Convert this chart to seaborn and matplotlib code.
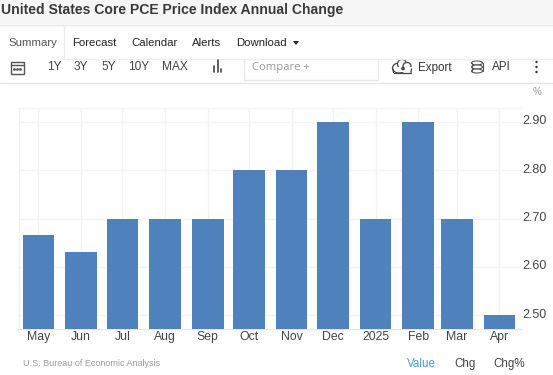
import numpy as np
import pandas as pd
import matplotlib
matplotlib.use('Agg')
import matplotlib.pyplot as plt
from matplotlib.patches import Rectangle, Ellipse, Circle
from matplotlib.transforms import ScaledTranslation
import seaborn as sns

sns.set_style('white')
plt.rcParams['font.family'] = ['Liberation Sans', 'DejaVu Sans']

# days since the first bar, the axis is a real time axis so the gaps differ a bit
days = [0, 31, 61, 92, 123, 153, 184, 214, 245, 276, 304, 335]
months = ['May', 'Jun', 'Jul', 'Aug', 'Sep', 'Oct', 'Nov', 'Dec', '2025', 'Feb', 'Mar', 'Apr']
values = [2.666, 2.63, 2.70, 2.70, 2.70, 2.80, 2.80, 2.90, 2.70, 2.90, 2.70, 2.50]
yticks = [2.50, 2.60, 2.70, 2.80, 2.90]
tabs = [('Summary', 8, '#555555'), ('Forecast', 72, '#222222'), ('Calendar', 131, '#222222'),
        ('Alerts', 192, '#222222'), ('Download', 236, '#222222')]
ranges = [('1Y', 47), ('3Y', 74), ('5Y', 101), ('10Y', 128), ('MAX', 162)]
modes = [('Value', 407, '#4a9be0'), ('Chg', 454, '#444444'), ('Chg%', 493, '#444444')]

W, H = 553, 375
fig = plt.figure(figsize=(W / 100, H / 100), dpi=100)

# page furniture, in pixel coordinates
bg = fig.add_axes([0, 0, 1, 1])
bg.set_xlim(0, W)
bg.set_ylim(H, 0)
bg.axis('off')
bg.add_patch(Rectangle((0, 0), W, 24, color='#f6f6f6', lw=0))
bg.plot([0, W], [24.5, 24.5], color='#e6e6e6', lw=1)
bg.add_patch(Rectangle((0, 25), 64, 35, facecolor='white', edgecolor='none'))
bg.plot([64, 64, W], [25, 59, 59], color='#ececec', lw=1)
bg.plot([0, W], [83, 83], color='#e6e6e6', lw=1)
bg.plot([244, 244, 378, 378], [60, 80, 80, 60], color='#e8e8e8', lw=1)

bg.text(1, 10, 'United States Core PCE Price Index Annual Change', fontsize=10.1,
        fontweight='bold', color='#3a3a3a', va='center')
for label, x, c in tabs:
    bg.text(x, 43, label, fontsize=8.2, color=c, va='center')
bg.fill([293, 299, 296], [41, 41, 45], color='#222222', lw=0)
for label, x in ranges:
    bg.text(x, 67.5, label, fontsize=8.6, color='#444444', va='center', ha='left')
bg.text(252, 67.5, 'Compare +', fontsize=8.1, color='#999999', va='center', family='Open Sans')
bg.text(418, 67.5, 'Export', fontsize=8.4, color='#333333', va='center')
bg.text(492, 67.5, 'API', fontsize=8.4, color='#333333', va='center')

# toolbar icons
bg.add_patch(Rectangle((10.5, 61.5), 13, 12, facecolor='none', edgecolor='#555555', lw=1))
bg.plot([10.5, 23.5], [65, 65], color='#555555', lw=1)
bg.plot([14, 17, 20], [69, 69, 69], ls='none', marker='s', ms=0.9, color='#555555')
for x, y0 in [(214, 66), (217.5, 60), (221, 69)]:
    bg.plot([x, x], [y0, 72], color='#444444', lw=1.2)
for xy, w, h in [((399, 68), 13, 10), ((402, 64), 9, 9), ((407, 66), 8, 7)]:
    bg.add_patch(Ellipse(xy, w, h, facecolor='white', edgecolor='#444444', lw=0.9))
bg.add_patch(Rectangle((397, 67), 15, 5, facecolor='white', lw=0))
bg.plot([393.5, 411], [72.5, 72.5], color='#444444', lw=0.9)
bg.plot([393, 393.5], [69, 72.5], color='#444444', lw=0.9)
bg.plot([411.5, 411], [69, 72.5], color='#444444', lw=0.9)
bg.add_patch(Circle((403, 68.5), 1.8, color='#444444', lw=0))
for y in [63, 67, 71]:
    bg.add_patch(Ellipse((477, y), 11, 4, facecolor='white', edgecolor='#555555', lw=0.8))
bg.plot([471.5, 471.5], [63, 71], color='#555555', lw=0.8)
bg.plot([482.5, 482.5], [63, 71], color='#555555', lw=0.8)
for y in [62, 67, 72]:
    bg.add_patch(Circle((536.5, y), 1.2, color='#333333', lw=0))

bg.text(537, 92, '%', fontsize=7, color='#999999', va='center', ha='center')
bg.text(23, 364, 'U.S. Bureau of Economic Analysis', fontsize=6.5, color='#9a9a9a', va='center')
for label, x, c in modes:
    bg.text(x, 364, label, fontsize=8.4, color=c, va='center')

# chart area
ax = fig.add_axes([18.5 / W, 1 - 329 / H, (520.5 - 18.5) / W, (329 - 108) / H])
ax.patch.set_alpha(0)
df = pd.DataFrame({'day': days, 'value': values})
sns.barplot(data=df, x='day', y='value', native_scale=True, color='#4f81bd',
            saturation=1, width=0.82, linewidth=0, ax=ax, zorder=3)
ax.set_xlim(-14.5, 350.3)
ax.set_ylim(2.471, 2.929)
ax.set_xticks(days)
ax.set_xticklabels(months, fontsize=8.8, color='#444444')
ax.set_yticks(yticks)
ax.set_yticklabels(['%.2f' % v for v in yticks], fontsize=9, color='#444444')
ax.yaxis.tick_right()
ax.tick_params(axis='x', length=0, pad=1.5)
ax.tick_params(axis='y', length=0, pad=1.5)
# y labels sit a little above their gridlines
up = ScaledTranslation(0, 2 / 100, fig.dpi_scale_trans)
for lab in ax.get_yticklabels():
    lab.set_transform(lab.get_transform() + up)
ax.set_xlabel('')
ax.set_ylabel('')
ax.grid(True, color='#f3f3f3', lw=1, zorder=0)
ax.set_axisbelow(True)
sns.despine(ax=ax, left=False, right=True, top=False, bottom=False)
ax.spines['left'].set_color('#f0f0f0')
ax.spines['top'].set_color('#f3f3f3')
ax.spines['bottom'].set_color('#dfe6ee')

fig.savefig('out.png', dpi=100)
